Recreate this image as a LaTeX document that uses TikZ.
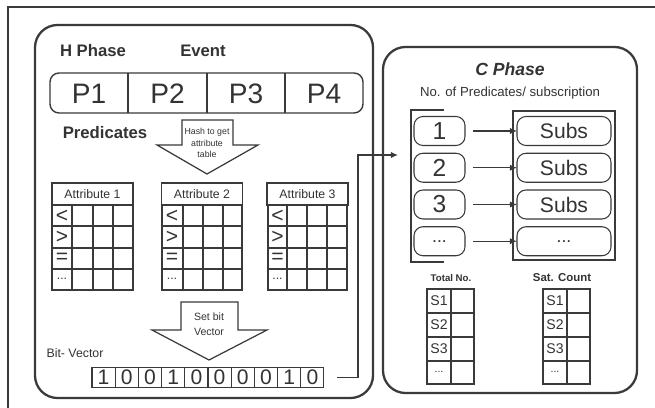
\documentclass[tikz,border=0pt]{standalone}
\usepackage{fontspec}
\setmainfont{Liberation Sans}
\usetikzlibrary{positioning,arrows.meta}

\definecolor{ink}{HTML}{333333}
\definecolor{edge}{HTML}{3A3A3A}

\begin{document}
\begin{tikzpicture}[x=0.02cm, y=-0.02cm, >={Latex[length=4pt,width=3.5pt]},
  every node/.style={text=ink, inner sep=0pt, outer sep=0pt},
  phase/.style={draw=edge, line width=1.3pt, rounded corners=0.45cm},
  cell/.style={draw=edge, line width=0.6pt},
  hollow/.style={draw=edge, line width=0.7pt, fill=white},
  bit/.style={draw=edge, line width=0.6pt, minimum width=0.464cm, minimum height=0.4cm, font=\fontsize{12}{12}\selectfont},
  pred/.style={draw=edge, line width=0.6pt, rounded corners=0.18cm, minimum width=1.02cm, minimum height=0.58cm, font=\fontsize{14}{14}\selectfont},
  subs/.style={draw=edge, line width=0.6pt, rounded corners=0.18cm, minimum width=1.88cm, minimum height=0.58cm, font=\fontsize{12}{12}\selectfont},
  head/.style={draw=edge, line width=0.6pt, minimum width=1.62cm, minimum height=0.44cm, font=\fontsize{7}{7}\selectfont},
  sym/.style={font=\fontsize{12}{12}\selectfont},
  title/.style={font=\bfseries\fontsize{9.5}{9.5}\selectfont}]
  \fill[white] (0,0) rectangle (655,408);
  \useasboundingbox (0,0) rectangle (655,408);
  \draw[edge, line width=0.8pt] (655,7) -- (8,7) -- (8,408);

  \draw[phase] (35,25) rectangle (373,398);
  \draw[phase] (383,47) rectangle (637,393);

  \node[title] (hph) at (93,51) {H Phase};
  \node[title] (ev) at (203,51) {Event};
  \node[title] (prd) at (105,133) {Predicates};

  \draw[edge, line width=0.8pt, rounded corners=0.18cm] (50,73) rectangle (363,113);
  \draw[edge, line width=0.8pt] (128,73) -- (128,113) (207,73) -- (207,113) (285,73) -- (285,113);
  \node[font=\fontsize{16}{16}\selectfont] (p1) at (89,94) {P1};
  \node[font=\fontsize{16}{16}\selectfont] (p2) at (167.5,94) {P2};
  \node[font=\fontsize{16}{16}\selectfont] (p3) at (246,94) {P3};
  \node[font=\fontsize{16}{16}\selectfont] (p4) at (324,94) {P4};

  \draw[hollow] (182,120) -- (233,120) -- (233,145) -- (258,145) -- (207,174) -- (157,145) -- (182,145) -- cycle;
  \node[align=center, font=\fontsize{5}{6.5}\selectfont] (hash) at (207,143) {Hash to get\\attribute\\table};

  \node[head] (a1) at (92.5,194) {Attribute 1};
  \draw[cell] (52,205) rectangle (133,290) (52,226) -- (133,226) (52,248) -- (133,248) (52,269) -- (133,269)
    (72,205) -- (72,290) (93,205) -- (93,290) (113,205) -- (113,290);
  \node[sym] (lt1) at (62,216) {<};
  \node[sym] (gt1) at (62,237) {>};
  \node[sym] (eq1) at (62,258) {=};
  \node[font=\fontsize{7}{7}\selectfont] (dt1) at (62,279) {...};

  \node[head] (a2) at (202,194) {Attribute 2};
  \draw[cell] (162,205) rectangle (242,290) (162,226) -- (242,226) (162,248) -- (242,248) (162,269) -- (242,269)
    (183,205) -- (183,290) (203,205) -- (203,290) (223,205) -- (223,290);
  \node[sym] (lt2) at (172,216) {<};
  \node[sym] (gt2) at (172,237) {>};
  \node[sym] (eq2) at (172,258) {=};
  \node[font=\fontsize{7}{7}\selectfont] (dt2) at (172,279) {...};

  \node[head] (a3) at (307.5,194) {Attribute 3};
  \draw[cell] (268,205) rectangle (347,290) (268,226) -- (347,226) (268,248) -- (347,248) (268,269) -- (347,269)
    (287,205) -- (287,290) (307,205) -- (307,290) (327,205) -- (327,290);
  \node[sym] (lt3) at (277.5,216) {<};
  \node[sym] (gt3) at (277.5,237) {>};
  \node[sym] (eq3) at (277.5,258) {=};
  \node[font=\fontsize{7}{7}\selectfont] (dt3) at (277.5,279) {...};

  \draw[hollow] (181,302) -- (238,302) -- (238,330) -- (267,330) -- (209,360) -- (152,330) -- (181,330) -- cycle;
  \node[align=center, font=\fontsize{6}{8.5}\selectfont] (setbit) at (209,324) {Set bit\\Vector};

  \node[font=\fontsize{7}{7}\selectfont] (bv) at (75,353) {Bit- Vector};
  \node[bit] (b1) at (103.6,377.5) {1};
  \node[bit, right=0pt of b1] (b2) {0};
  \node[bit, right=0pt of b2] (b3) {0};
  \node[bit, right=0pt of b3] (b4) {1};
  \node[bit, right=0pt of b4] (b5) {0};
  \node[bit, right=0pt of b5] (b6) {0};
  \node[bit, right=0pt of b6] (b7) {0};
  \node[bit, right=0pt of b7] (b8) {0};
  \node[bit, right=0pt of b8] (b9) {1};
  \node[bit, right=0pt of b9] (b10) {0};

  \node[font=\bfseries\itshape\fontsize{10}{10}\selectfont] (cph) at (510,69) {C Phase};
  \node[font=\fontsize{7.5}{7.5}\selectfont] (nop) at (510,93) {No. of Predicates/ subscription};

  \draw[edge, line width=0.6pt] (444,110) -- (411,110) -- (411,262) -- (444,262);
  \draw[edge, line width=0.6pt] (513,111) rectangle (615,260);
  \node[pred] (n1) at (439.5,131) {1};
  \node[pred, below=0.155cm of n1] (n2) {2};
  \node[pred, below=0.155cm of n2] (n3) {3};
  \node[pred, below=0.155cm of n3, font=\fontsize{10}{10}\selectfont] (n4) {...};
  \node[subs] (s1) at (564,131) {Subs};
  \node[subs, below=0.155cm of s1] (s2) {Subs};
  \node[subs, below=0.155cm of s2] (s3) {Subs};
  \node[subs, below=0.155cm of s3, font=\fontsize{10}{10}\selectfont] (s4) {...};
  \draw[->, edge, line width=0.7pt, shorten <=0.16cm] (n1) -- (s1);
  \draw[->, edge, line width=0.7pt, shorten <=0.16cm] (n2) -- (s2);
  \draw[->, edge, line width=0.7pt, shorten <=0.16cm] (n3) -- (s3);
  \draw[->, edge, line width=0.7pt, shorten <=0.16cm] (n4) -- (s4);

  \coordinate (bend) at (358,155);
  \coordinate (cin) at (398,155);
  \draw[->, edge, line width=0.7pt, shorten <=0.26cm] (b10.east) -| (bend) -- (cin);

  \node[font=\bfseries\fontsize{5.5}{5.5}\selectfont] (tot) at (451,278) {Total No.};
  \draw[cell] (427,289) rectangle (474,384) (427,313) -- (474,313) (427,337) -- (474,337) (427,361) -- (474,361) (451,289) -- (451,384);
  \node[font=\fontsize{8}{8}\selectfont] (t1) at (439,301) {S1};
  \node[font=\fontsize{8}{8}\selectfont] (t2) at (439,325) {S2};
  \node[font=\fontsize{8}{8}\selectfont] (t3) at (439,349) {S3};
  \node[font=\fontsize{6}{6}\selectfont] (t4) at (439,372) {...};

  \node[font=\bfseries\fontsize{6.5}{6.5}\selectfont] (sat) at (562,278) {Sat. Count};
  \draw[cell] (543,289) rectangle (590,384) (543,313) -- (590,313) (543,337) -- (590,337) (543,361) -- (590,361) (567,289) -- (567,384);
  \node[font=\fontsize{8}{8}\selectfont] (c1) at (555,301) {S1};
  \node[font=\fontsize{8}{8}\selectfont] (c2) at (555,325) {S2};
  \node[font=\fontsize{8}{8}\selectfont] (c3) at (555,349) {S3};
  \node[font=\fontsize{6}{6}\selectfont] (c4) at (555,372) {...};
\end{tikzpicture}
\end{document}
